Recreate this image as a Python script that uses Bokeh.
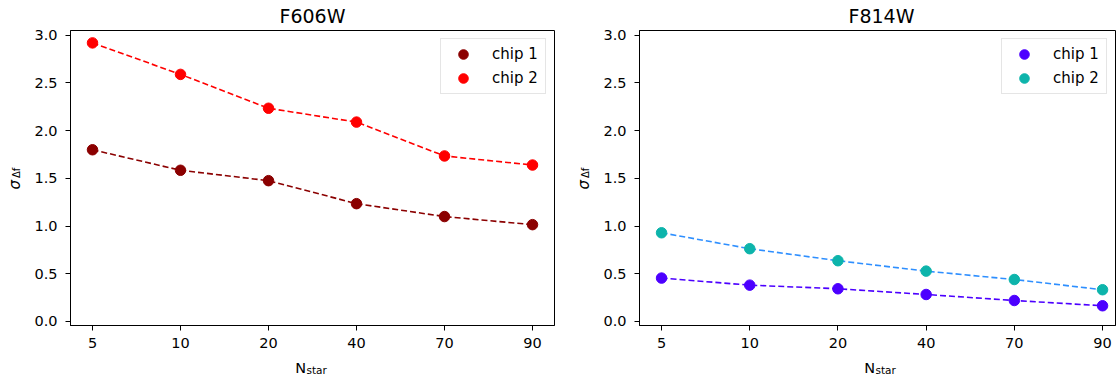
import math
from bokeh.plotting import figure
from bokeh.layouts import row
from bokeh.models import Range1d, FixedTicker, Legend, LegendItem, Label, PrintfTickFormatter
from bokeh.embed import file_html
from bokeh.resources import INLINE

# ---- data ----
n_star = ["5", "10", "20", "40", "70", "90"]
f606w_chip1 = [1.80, 1.585, 1.476, 1.235, 1.10, 1.015]
f606w_chip2 = [2.92, 2.59, 2.235, 2.09, 1.735, 1.64]
f814w_chip1 = [0.455, 0.381, 0.343, 0.283, 0.22, 0.165]
f814w_chip2 = [0.93, 0.763, 0.637, 0.528, 0.44, 0.333]
y_ticks = [0.0, 0.5, 1.0, 1.5, 2.0, 2.5, 3.0]
series_labels = ["chip 1", "chip 2"]

FONT = "DejaVu Sans"
REF_HALF_FRAME = 242  # half width of the (uncropped) plot frame


def make_panel(title, c1, c2, marker_colors, line_colors, frame_width, x_end,
               border_left, border_right, legend_margin):
    idx = list(range(len(n_star)))
    p = figure(width=border_left + frame_width + border_right, height=376,
               frame_width=frame_width, frame_height=295,
               x_range=Range1d(-0.25, x_end), y_range=Range1d(-0.042, 3.05),
               output_backend="svg", toolbar_location=None,
               min_border_left=border_left, min_border_right=border_right,
               min_border_top=30, min_border_bottom=51)

    p.xgrid.visible = False
    p.ygrid.visible = False
    p.outline_line_color = "black"
    p.outline_line_width = 1
    p.outline_line_alpha = 1
    p.background_fill_color = "white"
    p.border_fill_color = "white"

    for ax in (p.xaxis[0], p.yaxis[0]):
        ax.axis_line_color = "black"
        ax.major_tick_line_color = "black"
        ax.major_tick_out = 5
        ax.major_tick_in = 0
        ax.minor_tick_line_color = None
        ax.major_label_text_font = FONT
        ax.major_label_text_font_size = "14.5px"
        ax.major_label_text_color = "black"
    p.xaxis.ticker = FixedTicker(ticks=idx)
    p.xaxis.major_label_overrides = {i: lab for i, lab in enumerate(n_star)}
    p.xaxis.major_label_standoff = 7
    p.yaxis.ticker = FixedTicker(ticks=y_ticks)
    p.yaxis.formatter = PrintfTickFormatter(format="%.1f")
    p.yaxis.major_label_standoff = 8

    items = []
    for vals, mc, lc, lab in zip((c1, c2), marker_colors, line_colors, series_labels):
        p.line(idx, vals, line_color=lc, line_width=1.6, line_dash="6 3")
        r = p.scatter(idx, vals, size=10.5, fill_color=mc, line_color=mc, marker="circle")
        items.append(LegendItem(label=lab, renderers=[r]))

    leg = Legend(items=items, location="top_right", margin=legend_margin,
                 padding=3, spacing=0, glyph_width=38, glyph_height=24,
                 label_height=24, label_width=50, label_standoff=10,
                 label_text_font=FONT, label_text_font_size="15px",
                 label_text_color="black", border_line_color="#cccccc",
                 border_line_width=1, background_fill_color="white",
                 background_fill_alpha=0.8)
    p.add_layout(leg)

    fl = border_left  # frame left in this figure's canvas
    cx = fl + REF_HALF_FRAME

    # panel title
    p.add_layout(Label(x=cx, y=15.5, x_units="canvas", y_units="canvas", text=title,
                       text_align="center", text_baseline="alphabetic",
                       text_font=FONT, text_font_size="19px", text_color="black"), "above")

    # axis labels with subscripts, placed in canvas pixels inside side panels
    p.add_layout(Label(x=fl - 55.5, y=189, x_units="canvas", y_units="canvas",
                       text="σ", angle=math.pi / 2,
                       text_align="left", text_baseline="alphabetic",
                       text_font=FONT, text_font_size="15px", text_font_style="italic",
                       text_color="black"), "left")
    p.add_layout(Label(x=fl - 54, y=177.5, x_units="canvas", y_units="canvas",
                       text="Δf", angle=math.pi / 2,
                       text_align="left", text_baseline="alphabetic",
                       text_font=FONT, text_font_size="10px",
                       text_color="black"), "left")
    p.add_layout(Label(x=cx - 6.5, y=367.3, x_units="canvas", y_units="canvas", text="N",
                       text_align="right", text_baseline="alphabetic",
                       text_font=FONT, text_font_size="14.5px", text_color="black"), "below")
    p.add_layout(Label(x=cx - 6, y=369.8, x_units="canvas", y_units="canvas", text="star",
                       text_align="left", text_baseline="alphabetic",
                       text_font=FONT, text_font_size="10.5px", text_color="black"), "below")
    return p


left = make_panel("F606W", f606w_chip1, f606w_chip2,
                  ["#8b0000", "#ff0000"], ["#8b0000", "#ff0000"],
                  frame_width=484, x_end=5.25, border_left=70, border_right=11,
                  legend_margin=8)
right = make_panel("F814W", f814w_chip1, f814w_chip2,
                   ["#4c00ff", "#0db4ab"], ["#4c00ff", "#2e8fff"],
                   frame_width=476, x_end=5.147, border_left=74, border_right=1,
                   legend_margin=8)

layout = row(left, right, spacing=0)
open("out.html", "w").write(file_html(layout, INLINE))
